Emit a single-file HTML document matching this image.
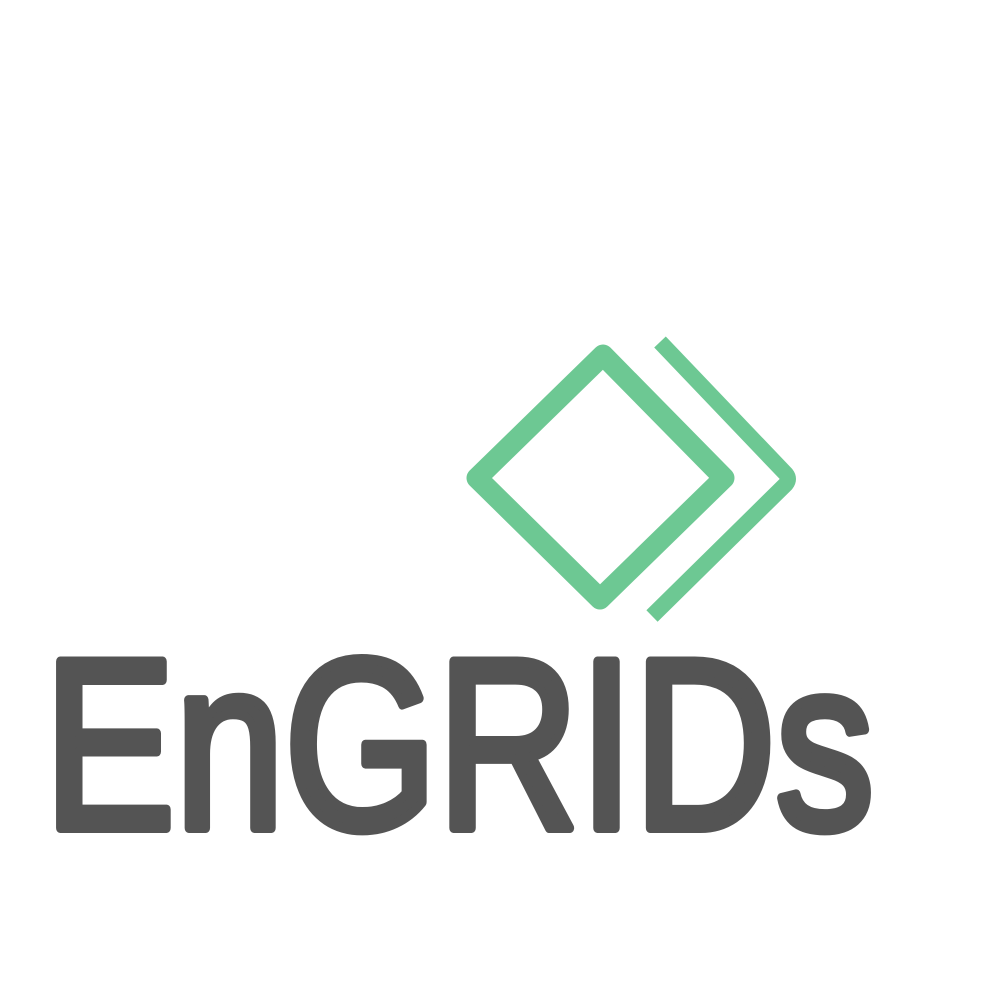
<!DOCTYPE html>
<html>
<head>
<meta charset="utf-8">
<style>
  html,body{margin:0;padding:0;background:#fff;}
  svg{display:block;}
</style>
</head>
<body>
<svg width="1000" height="1000" viewBox="0 0 1000 1000">
  <g fill="none" stroke="#6DC893" stroke-linejoin="round">
    <path
          d="M603,355 L724,478 L600,599 L477,478 Z" stroke-width="21"/>
    <path
          d="M660,342 L786,474 Q790,479 786,484 L652,616" stroke-width="16" stroke-linejoin="round"/>
  </g>
  <text
        x="44" y="828" font-family="'Liberation Sans', 'DejaVu Sans', sans-serif"
        font-size="242" fill="#545454" stroke="#545454" stroke-width="10" stroke-linejoin="round"
        textLength="830" lengthAdjust="spacingAndGlyphs">EnGRIDs</text>
</svg>
</body>
</html>
